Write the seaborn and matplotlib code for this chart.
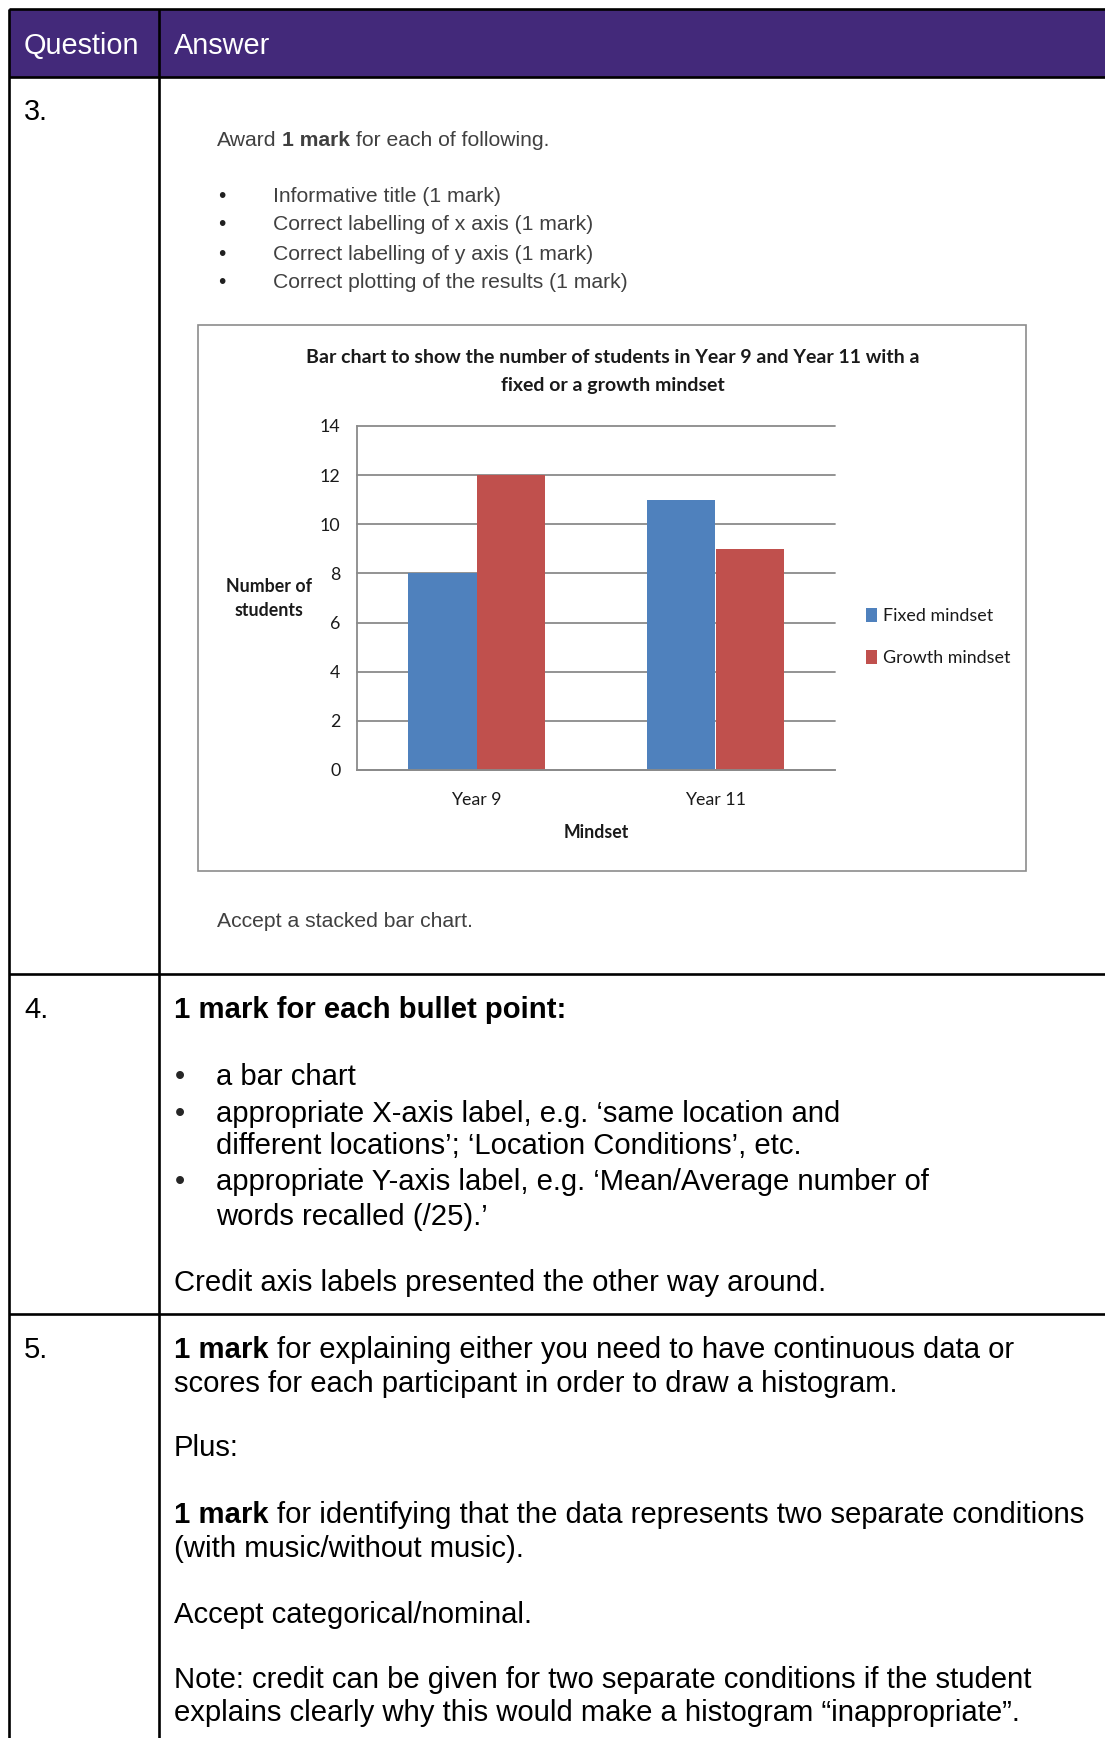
import matplotlib
matplotlib.use("Agg")
import matplotlib.pyplot as plt
import seaborn as sns
import pandas as pd
from matplotlib.patches import Rectangle

# ---- data -------------------------------------------------------------
years = ["Year 9", "Year 11"]
mindsets = ["Fixed mindset", "Growth mindset"]
fixed_counts = [8, 11]
growth_counts = [12, 9]
y_ticks = [0, 2, 4, 6, 8, 10, 12, 14]

chart_title = ["Bar chart to show the number of students in Year 9 and Year 11 with a",
               "fixed or a growth mindset"]
y_label = "Number of\nstudents"
x_label = "Mindset"

bar_colors = ["#4F81BD", "#C0504D"]

# ---- page setup (1 data unit = 1 pixel, y grows downward) -------------
W, H, DPI = 1105, 1738, 100
sns.set_style("white")
plt.rcParams["font.family"] = ["Lato", "DejaVu Sans"]
BODY = ["Liberation Sans", "DejaVu Sans"]
FS = 21.1

fig = plt.figure(figsize=(W / DPI, H / DPI), dpi=DPI)
bg = fig.add_axes([0, 0, 1, 1])
bg.set_xlim(0, W)
bg.set_ylim(H, 0)
bg.axis("off")
renderer = fig.canvas.get_renderer()


def text_width(s, size, weight="normal", family=BODY):
    t = bg.text(0, 0, s, fontsize=size, fontweight=weight, family=family)
    w = t.get_window_extent(renderer=renderer).width
    t.remove()
    return w


def runs(x, y, parts, size=FS, color="black", family=BODY):
    """Draw a line made of normal/bold pieces separated by spaces."""
    sp = text_width("x x", size, family=family) - text_width("xx", size, family=family)
    cx = x
    for s, bold in parts:
        t = bg.text(cx, y, s, fontsize=size, fontweight="bold" if bold else "normal",
                    color=color, family=family, va="baseline", ha="left")
        cx += t.get_window_extent(renderer=renderer).width + sp


def line(x, y, s, size=FS, color="black", weight="normal"):
    bg.text(x, y, s, fontsize=size, fontweight=weight, color=color,
            family=BODY, va="baseline", ha="left")


# ---- table frame ------------------------------------------------------
PURPLE = "#43297A"
bg.add_patch(Rectangle((9, 9), W - 9, 68, facecolor=PURPLE, edgecolor="none"))
LW = 1.9
for yy in [9, 77, 974, 1314]:
    bg.plot([9, W], [yy, yy], color="black", lw=LW, solid_capstyle="butt")
for xx in [9, 159]:
    bg.plot([xx, xx], [9, H], color="black", lw=LW, solid_capstyle="butt")

line(24, 54, "Question", size=20.8, color="white")
line(174, 54, "Answer", size=20.8, color="white")

# ---- row 3 ------------------------------------------------------------
line(24, 120, "3.", size=20.8)
GREY = "#404040"
runs(217, 146, [("Award", False), ("1 mark", True), ("for each of following.", False)],
     size=15.2, color=GREY)
criteria = ["Informative title (1 mark)", "Correct labelling of x axis (1 mark)",
            "Correct labelling of y axis (1 mark)", "Correct plotting of the results (1 mark)"]
for yy, s in zip([201.5, 230.5, 259.5, 288], criteria):
    bg.text(222, yy, "\u2022", fontsize=15, color="#202020", family=BODY,
            va="baseline", ha="center")
    line(273, yy, s, size=15.2, color=GREY)
line(217, 927, "Accept a stacked bar chart.", size=15.2, color=GREY)

# chart frame
bg.add_patch(Rectangle((198, 325), 828, 546, facecolor="white", edgecolor="#8c8c8c", lw=1.2))
for yy, s in zip([363, 391], chart_title):
    bg.text(613, yy, s, fontsize=14, fontweight="bold", color="#1a1a1a",
            ha="center", va="baseline")

# ---- bar chart --------------------------------------------------------
ax = fig.add_axes([357 / W, 1 - 770 / H, 478 / W, 344 / H])
df = pd.DataFrame({
    "Year": years + years,
    "Mindset": [mindsets[0]] * len(years) + [mindsets[1]] * len(years),
    "Students": fixed_counts + growth_counts,
})
sns.barplot(data=df, x="Year", y="Students", hue="Mindset", order=years,
            hue_order=mindsets, palette=bar_colors, saturation=1, width=0.575,
            linewidth=0, errorbar=None, ax=ax)
ax.set_facecolor("none")
ax.set_xlim(-0.5, len(years) - 0.5)
ax.set_ylim(0, 14)
ax.set_yticks(y_ticks)
AXC = "#8a8a8a"
ax.grid(axis="y", color=AXC, lw=1.3)
ax.grid(axis="x", visible=False)
ax.set_axisbelow(True)
for gl in ax.yaxis.get_gridlines():
    gl.set_clip_on(False)
for side in ["top", "right"]:
    ax.spines[side].set_visible(False)
for side in ["left", "bottom"]:
    ax.spines[side].set_color(AXC)
    ax.spines[side].set_linewidth(1.3)
ax.tick_params(axis="y", length=8, width=1.3, color=AXC, pad=4,
               labelsize=12.8, labelcolor="#1a1a1a")
ax.tick_params(axis="x", which="major", length=0, pad=16,
               labelsize=12.8, labelcolor="#1a1a1a")
ax.set_xticks([i - 0.5 for i in range(len(years) + 1)], minor=True)
ax.tick_params(axis="x", which="minor", length=9, width=1.3, color=AXC, direction="out")

ax.set_ylabel(y_label, rotation=0, fontsize=12.8, fontweight="bold", color="#1a1a1a",
              ha="center", va="center", multialignment="center", linespacing=1.5)
ax.yaxis.set_label_coords((269 - 357) / 478, 1 - (599 - 426) / 344)
ax.set_xlabel(x_label, fontsize=12.8, fontweight="bold", color="#1a1a1a", va="center")
ax.xaxis.set_label_coords(0.5, (770 - 833) / 344)

sns.move_legend(ax, "upper left", bbox_to_anchor=(866, 608), bbox_transform=bg.transData,
                title=None, frameon=False, fontsize=12.9, handlelength=0.62,
                handleheight=0.8, handletextpad=0.33, labelspacing=1.45,
                borderpad=0, borderaxespad=0)
for t in ax.get_legend().get_texts():
    t.set_color("#1a1a1a")

# ---- row 4 ------------------------------------------------------------
line(24, 1018, "4.")
line(174, 1018, "1 mark for each bullet point:", weight="bold")
bullet_lines = [
    (1085, True, "a bar chart"),
    (1122, True, "appropriate X-axis label, e.g. \u2018same location and"),
    (1154, False, "different locations\u2019; \u2018Location Conditions\u2019, etc."),
    (1190, True, "appropriate Y-axis label, e.g. \u2018Mean/Average number of"),
    (1225, False, "words recalled (/25).\u2019"),
]
for yy, has_bullet, s in bullet_lines:
    if has_bullet:
        bg.text(180, yy, "\u2022", fontsize=FS, family=BODY, va="baseline", ha="center")
    line(216, yy, s)
line(174, 1291, "Credit axis labels presented the other way around.")

# ---- row 5 ------------------------------------------------------------
line(24, 1358, "5.")
runs(174, 1358, [("1 mark", True),
                 ("for explaining either you need to have continuous data or", False)])
line(174, 1392, "scores for each participant in order to draw a histogram.")
line(174, 1456, "Plus:")
runs(174, 1523, [("1 mark", True),
                 ("for identifying that the data represents two separate conditions", False)])
line(174, 1557, "(with music/without music).")
line(174, 1623, "Accept categorical/nominal.")
line(174, 1688, "Note: credit can be given for two separate conditions if the student")
line(174, 1721, "explains clearly why this would make a histogram \u201cinappropriate\u201d.")

fig.savefig("out.png", dpi=DPI)
